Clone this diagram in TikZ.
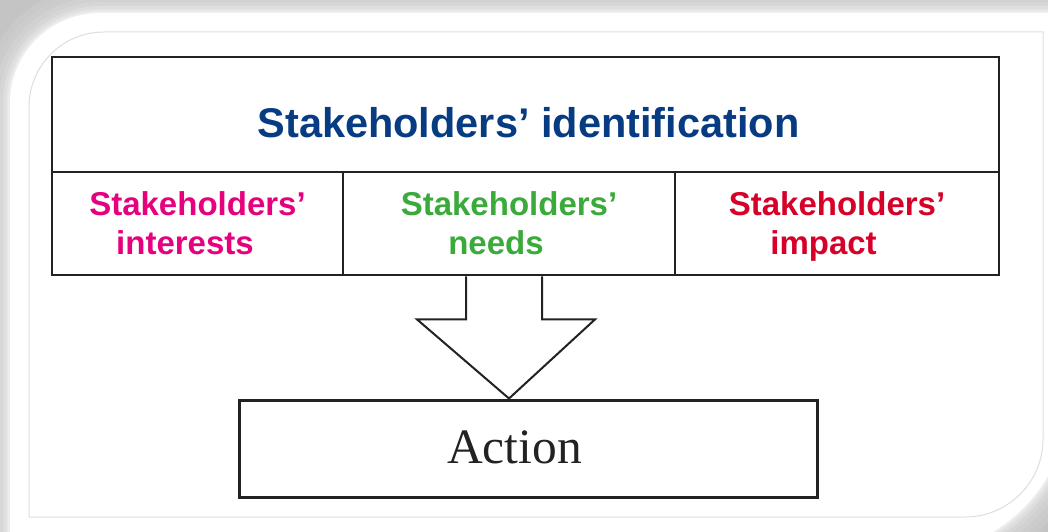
\documentclass[tikz,border=0pt]{standalone}
\usepackage{fontspec}
\setmainfont{Liberation Serif}
\setsansfont{Liberation Sans}
\usetikzlibrary{calc}
\definecolor{titleblue}{RGB}{8,60,130}
\definecolor{intpink}{RGB}{230,0,126}
\definecolor{needgreen}{RGB}{58,170,58}
\definecolor{impred}{RGB}{214,0,40}
\definecolor{edge}{RGB}{34,34,34}
\definecolor{innerline}{RGB}{222,222,222}
\tikzset{
  cell/.style={draw=edge, line width=2.8pt, inner sep=0pt, align=center,
    font=\sffamily\bfseries\fontsize{33}{39}\selectfont},
  arrowline/.style={draw=edge, line width=2pt, line join=miter},
  actionbox/.style={draw=edge, line width=3pt, inner sep=0pt, text=edge,
    font=\rmfamily\fontsize{49.5}{55}\selectfont}
}
\begin{document}
\begin{tikzpicture}[x=1pt,y=-1pt]
    \useasboundingbox (0,0) rectangle (1048,532);
    \clip (0,0) rectangle (1048,532);
    % shadow
    \fill[black!23] (0,0) rectangle (1048,532);
    \foreach \w/\g in {56/21,44/20,32/18,22/16,14/13,8/10,4/7}
      \draw[line width=\w pt, black!\g] (10,560) -- (10,103) .. controls (10,53.3) and (50.3,13) .. (100,13) -- (1070,13) -- (1070,395) .. controls (1070,483.4) and (998.4,555) .. (910,555) -- cycle;
    % card
    \fill[white] (10,560) -- (10,103) .. controls (10,53.3) and (50.3,13) .. (100,13) -- (1070,13) -- (1070,395) .. controls (1070,483.4) and (998.4,555) .. (910,555) -- cycle;
    \draw[innerline, line width=1pt] (29,517) -- (29,107) .. controls (29,65.6) and (62.6,32) .. (104,32) -- (1043,32) -- (1043,439) .. controls (1043,482.1) and (1008.1,517) .. (965,517) -- cycle;
    % identification row
    \node[cell, minimum width=947pt, minimum height=115pt, text height=45pt, text depth=0pt,
      font=\sffamily\bfseries\fontsize{41.5}{50}\selectfont, text=titleblue] (ident) at (525.5,114.5) {\kern6pt Stakeholders’ identification};
    % interests, needs, impact
    \node[cell, minimum width=291pt, minimum height=103pt, text=intpink] (interests) at (197.5,223.5) {Stakeholders’\\interests\kern25pt};
    \node[cell, minimum width=332pt, minimum height=103pt, text=needgreen] (needs) at (509,223.5) {Stakeholders’\\needs\kern26pt};
    \node[cell, minimum width=324pt, minimum height=103pt, text=impred, text depth=0pt] (impact) at (837,223.5) {Stakeholders’\\impact\kern27pt};
    % action
    \node[actionbox, minimum width=578pt, minimum height=97pt, text height=34pt, text depth=5pt] (action) at (528,448.5) {Action\kern27pt};
    % block arrow
    \draw[arrowline] ($(needs.south)+(-43,0)$) -- ++(0,43) -- ++(-49,0) -- (needs.south |- action.north) -- ($(needs.south)+(86,43)$) -- ($(needs.south)+(33,43)$) -- ($(needs.south)+(33,0)$);
\end{tikzpicture}
\end{document}
